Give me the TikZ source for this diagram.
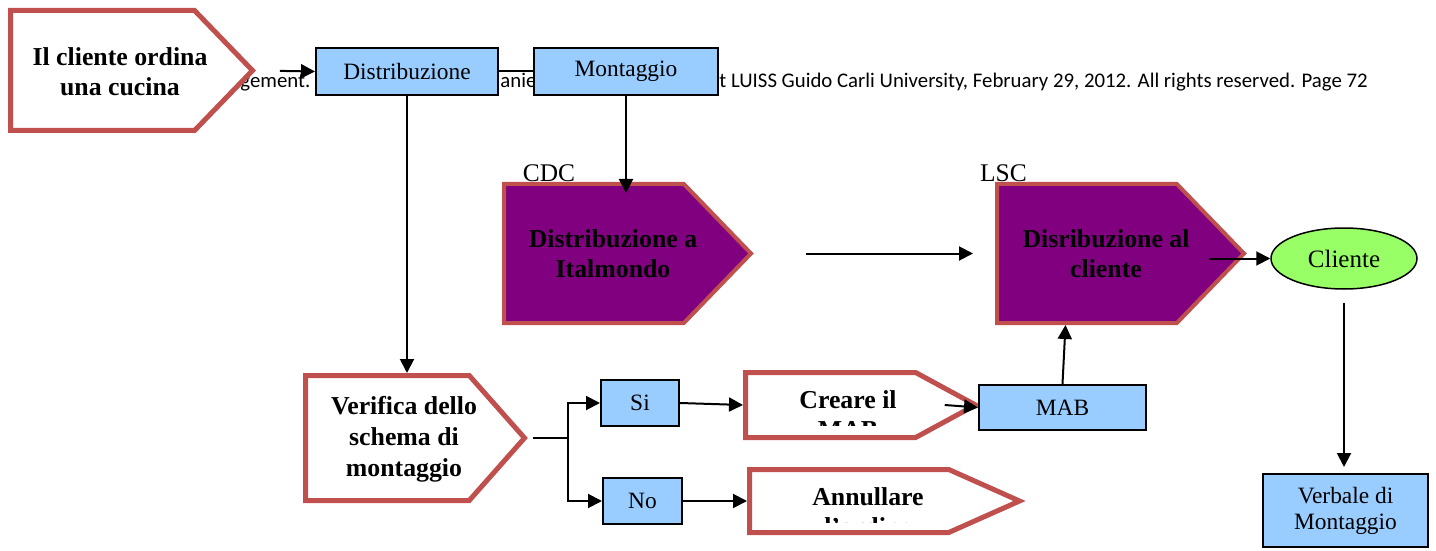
\documentclass[tikz,border=0pt]{standalone}
\usepackage{fontspec}
\setmainfont{Liberation Serif}
\newfontfamily\calibfont{Carlito}
\usepackage{tikz}
\usetikzlibrary{arrows.meta, positioning, shapes.geometric, shapes.symbols}
\definecolor{pentred}{HTML}{C0504D}
\definecolor{boxblue}{HTML}{99CCFF}
\definecolor{lila}{HTML}{800080}
\definecolor{clientgreen}{HTML}{99FF66}

\begin{document}
\begin{tikzpicture}[x=0.5pt, y=-0.5pt,
    box/.style={rectangle, draw, line width=1pt, fill=boxblue, inner sep=0pt,
        align=center, font=\fontsize{11.7}{13}\selectfont},
    pent/.style={signal, signal to=east, signal from=nowhere, draw=pentred,
        line width=2.5pt, fill=white, inner sep=0pt, anchor=west},
    pentp/.style={pent, fill=lila, line width=2pt},
    ptxt/.style={align=center, inner sep=0pt,
        font=\bfseries\fontsize{12.9}{15}\selectfont},
    lbl/.style={inner sep=0pt, font=\fontsize{12.7}{15}\selectfont},
    bgtxt/.style={inner sep=0pt, anchor=base west,
        font=\calibfont\fontsize{10.4}{12}\selectfont},
    arr/.style={-{Triangle[length=7pt, width=7pt]}, line width=1pt},
    plain/.style={line width=1pt}
]
\useasboundingbox (0,0) rectangle (1436,551);

\node[bgtxt] (bg1) at (240,88) {gement.};
\node[bgtxt] (bg2) at (500,88) {anie};
\node[bgtxt] (bg3) at (719,88) {t LUISS Guido Carli University, February 29, 2012. All rights reserved. Page 72};

\node[pent, minimum width=121pt, minimum height=60pt, signal pointer angle=92] (ordina) at (8,70.5) {};
\node[ptxt] (ordina-t) at (120,72) {Il cliente ordina\\una cucina};

\node[box, minimum width=91pt, minimum height=23.5pt] (distr) at (407,71.5) {Distribuzione};
\node[box, minimum width=92pt, minimum height=23.5pt, right=17pt of distr] (mont) {Montaggio};

\node[lbl] (cdc) at (549,173) {CDC};
\node[lbl] (lsc-l) at (1003.5,173) {LSC};

\node[pentp, minimum width=123.5pt, minimum height=69.5pt, signal pointer angle=92] (ital) at (502,253.5) {};
\node[ptxt] (ital-t) at (613,254) {Distribuzione a\\Italmondo};
\node[pentp, minimum width=123.5pt, minimum height=69.5pt, signal pointer angle=92] (lsc) at (995,253.5) {};
\node[ptxt] (lsc-t) at (1106,254) {Disribuzione al\\cliente};

\node[box, ellipse, fill=clientgreen, line width=0.75pt, minimum width=73pt, minimum height=30.5pt,
    font=\fontsize{12.5}{14}\selectfont] (cli) at (1344,258.5) {Cliente};
\node[box, minimum width=82.5pt, minimum height=36.5pt] (verb) at (1345.5,510.5) {Verbale di\\Montaggio};

\node[pent, minimum width=109.5pt, minimum height=62.5pt, signal pointer angle=97] (verif) at (303,438) {};
\node[ptxt, font=\bfseries\fontsize{12.9}{15.5}\selectfont] (verif-t) at (404,439) {Verifica dello\\schema di\\montaggio};

\node[box, minimum width=39pt, minimum height=23pt] (si) at (640,403) {Si};
\node[box, minimum width=39.5pt, minimum height=23pt] (no) at (642.5,501) {No};

\node[pent, minimum width=115pt, minimum height=32.5pt, signal pointer angle=57] (creare) at (743,405) {};
\begin{scope}
\clip (746,373) rectangle (916,425);
\node[ptxt] (creare-t) at (848,415) {Creare il\\MAB};
\end{scope}
\node[pent, minimum width=135pt, minimum height=31.5pt, signal pointer angle=48] (annul) at (747,501) {};
\begin{scope}
\clip (750,470) rectangle (948,522);
\node[ptxt] (annul-t) at (868,512) {Annullare\\l’ordine};
\end{scope}

\node[box, minimum width=83.5pt, minimum height=22.5pt] (mab) at (1062.5,407.5) {MAB};

\coordinate (split) at (568,438);
\coordinate (lscout) at ([xshift=-19pt]lsc.east);
\coordinate (mabup) at ([xshift=1.5pt]mab.north);

\draw[arr, shorten <=12pt] (ordina.east) -- (distr.west);
\draw[plain] (distr) -- (mont);
\draw[arr] (distr.south) -- (distr.south |- verif.north);
\draw[arr, shorten >=-5.5pt] (mont.south) -- (mont.south |- ital.north);
\draw[arr, shorten <=26pt, shorten >=11pt] (ital.east) -- (lsc.west);
\draw[arr] (lscout |- cli.west) -- (cli.west);
\draw[arr, shorten <=6.5pt, shorten >=3pt] (cli.south) -- (cli.south |- verb.north);
\draw[plain, shorten <=2.5pt] (verif.east) -- (split);
\draw[arr] (split) |- (si.west);
\draw[arr] (split) |- (no.west);
\draw[arr] (si.east) -- (creare.west);
\draw[arr] (no.east) -- (annul.west);
\draw[arr] ([xshift=-18pt]creare.east) -- (mab.west);
\draw[arr] (mab.north) -- (mabup |- lsc.south);
\end{tikzpicture}
\end{document}
